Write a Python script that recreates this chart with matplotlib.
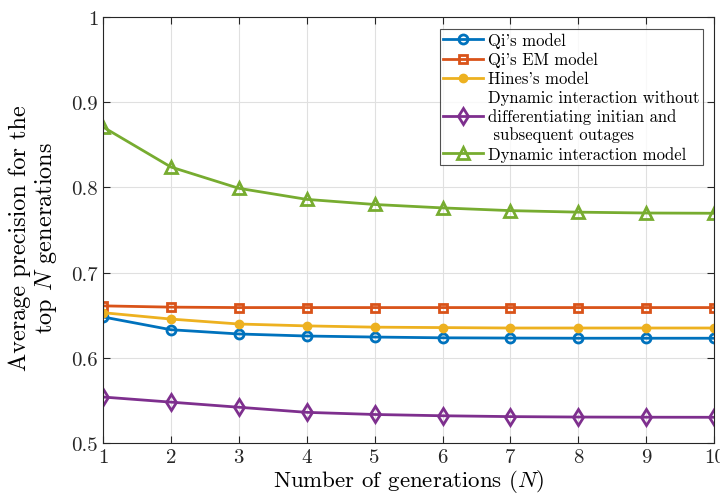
import matplotlib
matplotlib.use("Agg")
import matplotlib.pyplot as plt

plt.rcParams['font.family'] = ['cmr10', 'DejaVu Serif']
plt.rcParams['mathtext.fontset'] = 'cm'
plt.rcParams['axes.formatter.use_mathtext'] = True

N = [1, 2, 3, 4, 5, 6, 7, 8, 9, 10]
qi = [0.648, 0.633, 0.628, 0.6256, 0.6244, 0.6235, 0.6232, 0.623, 0.623, 0.623]
qi_em = [0.661, 0.6595, 0.659, 0.659, 0.659, 0.659, 0.659, 0.659, 0.659, 0.659]
hines = [0.653, 0.6455, 0.6397, 0.6375, 0.636, 0.6355, 0.635, 0.635, 0.635, 0.635]
dyn_nodiff = [0.554, 0.548, 0.542, 0.536, 0.5335, 0.532, 0.531, 0.5305, 0.5303, 0.5302]
dyn = [0.871, 0.824, 0.799, 0.786, 0.780, 0.776, 0.7728, 0.771, 0.770, 0.7697]

labels = ["Qi's model", "Qi's EM model", "Hines's model",
          "Dynamic interaction without\ndifferentiating initian and\n subsequent outages",
          "Dynamic interaction model"]

fig = plt.figure(figsize=(7.2, 5.02), dpi=100)
ax = fig.add_axes([0.143, 0.1155, 0.849, 0.8485])

ax.plot(N, qi, color='#0072BD', linewidth=2, marker='o', markersize=6.5, mfc='none', mew=2, label=labels[0])
ax.plot(N, qi_em, color='#D95319', linewidth=2, marker='s', markersize=5.5, mfc='none', mew=2, label=labels[1])
ax.plot(N, hines, color='#EDB120', linewidth=2, marker='o', markersize=6, label=labels[2])
ax.plot(N, dyn_nodiff, color='#7E2F8E', linewidth=2, marker='d', markersize=8, mfc='none', mew=2, label=labels[3])
ax.plot(N, dyn, color='#77AC30', linewidth=2, marker='^', markersize=8, mfc='none', mew=2, label=labels[4])

ax.set_xlim(1, 10)
ax.set_ylim(0.5, 1)
ax.set_xticks(N)
ax.set_xticklabels([str(n) for n in N])
ax.set_yticks([0.5, 0.6, 0.7, 0.8, 0.9, 1])
ax.set_yticklabels(['0.5', '0.6', '0.7', '0.8', '0.9', '1'])
ax.grid(True, color='#e0e0e0', linewidth=0.8)
ax.tick_params(direction='in', top=True, right=True, labelsize=15, colors='#262626', length=5)
for s in ax.spines.values():
    s.set_color('#262626')
    s.set_linewidth(0.8)

ax.set_xlabel('Number of generations ($N$)', fontsize=16.5, labelpad=1)
ax.set_ylabel('Average precision for the\ntop $N$ generations', fontsize=17.5,
              linespacing=1.1)
ax.yaxis.set_label_coords(-0.072, 0.484)

leg = ax.legend(loc='upper right', fontsize=12, frameon=True, fancybox=False,
                edgecolor='#262626', handlelength=2.4, borderaxespad=0.7,
                borderpad=0.2, labelspacing=0.22, handletextpad=0.3)
leg.get_frame().set_linewidth(0.8)

fig.savefig('out.png', dpi=100)
